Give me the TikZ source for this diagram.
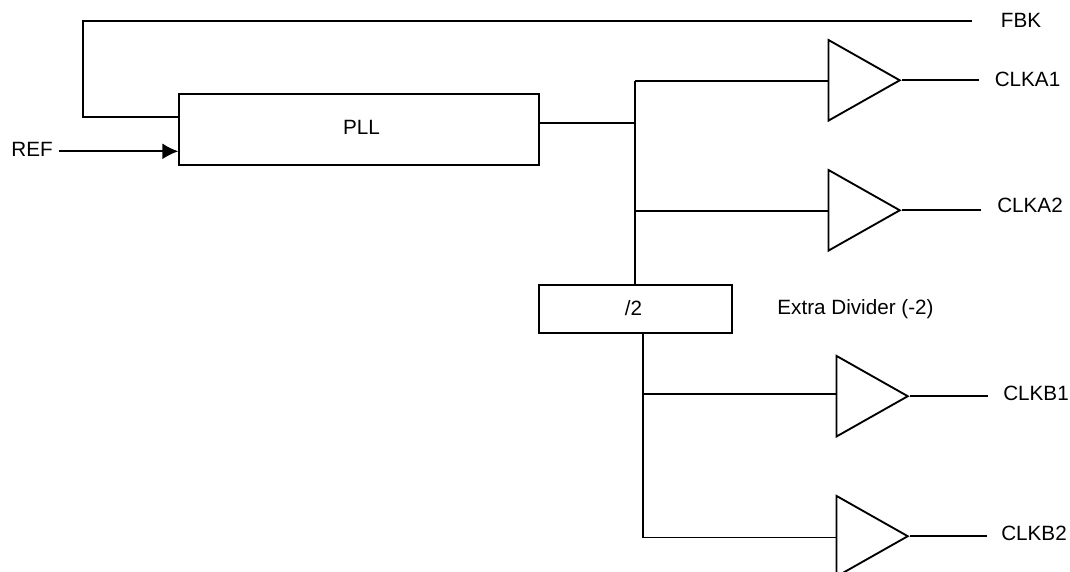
\documentclass[tikz,border=0pt]{standalone}
\usepackage{fontspec}
\setmainfont{Liberation Sans}
\usetikzlibrary{shapes.geometric,arrows.meta}
\begin{document}
\begin{tikzpicture}[
    x=0.75pt, y=-0.75pt,
    font=\fontsize{15.5}{18}\selectfont,
    block/.style={rectangle, draw, inner sep=0pt, line width=1.4pt},
    buffer/.style={isosceles triangle, isosceles triangle stretches, draw, line width=1.4pt, inner sep=0pt, anchor=lower side, minimum width=60.5pt, minimum height=53.5pt},
    line/.style={draw, line width=1.4pt},
    label/.style={inner sep=0pt}
  ]
    \useasboundingbox (0,0) rectangle (1070,571);

    \node [block, minimum width=270pt, minimum height=53.7pt] (pll) at (359.3,129.5) {};
    \node [block, minimum width=144.3pt, minimum height=36pt] (div) at (635.5,309.3) {};

    \node [buffer] (bufa1) at (827.5,80.3) {};
    \node [buffer] (bufa2) at (827.5,210.3) {};
    \node [buffer] (bufb1) at (835.5,396.2) {};
    \node [buffer] (bufb2) at (835.5,536.2) {};

    \node [label] (plltext) at (361.5,127.5) {PLL};
    \node [label] (divtext) at (633.5,308) {/2};
    \node [label] (ref) at (32,149.5) {REF};
    \node [label] (fbk) at (1021,20) {FBK};
    \node [label] (clka1) at (1027.5,79.5) {CLKA1};
    \node [label] (clka2) at (1030,205) {CLKA2};
    \node [label] (clkb1) at (1036,393.5) {CLKB1};
    \node [label] (clkb2) at (1034,533.5) {CLKB2};
    \node [label] (extra) at (855.5,309.5) {Extra Divider (-2)};

    \coordinate (fbkend) at (972,21.3);
    \coordinate (fbktop) at (83.3,21.3);
    \coordinate (fbkin) at (83.3,117.3);
    \coordinate (refstart) at (59,151.3);
    \coordinate (taptop) at (635.3,81.3);
    \coordinate (tappll) at (635.3,123.3);
    \coordinate (tapa2) at (635.3,211.3);
    \coordinate (tapb1) at (643.3,393.7);
    \coordinate (tapb2) at (643.3,537.5);
    \coordinate (enda1) at (979,80.3);
    \coordinate (enda2) at (980.5,210.3);
    \coordinate (endb1) at (988,396.2);
    \coordinate (endb2) at (986.5,536.2);

    \path [line] (fbkend) -- (fbktop) -- (fbkin) -- (fbkin -| pll.west);
    \path [line, -{Latex[length=12pt,width=12pt]}] (refstart) -- (refstart -| pll.west);
    \path [line] (pll.east |- tappll) -- (tappll);
    \path [line] (taptop) -- (taptop |- div.north);
    \path [line] (taptop) -- (taptop -| bufa1.lower side);
    \path [line] (tapa2) -- (tapa2 -| bufa2.lower side);
    \path [line] (tapb2 |- div.south) -- (tapb2) -- (tapb2 -| bufb2.lower side);
    \path [line] (tapb1) -- (tapb1 -| bufb1.lower side);
    \path [line] (bufa1.apex) -- (enda1);
    \path [line] (bufa2.apex) -- (enda2);
    \path [line] (bufb1.apex) -- (endb1);
    \path [line] (bufb2.apex) -- (endb2);
  \end{tikzpicture}
\end{document}
